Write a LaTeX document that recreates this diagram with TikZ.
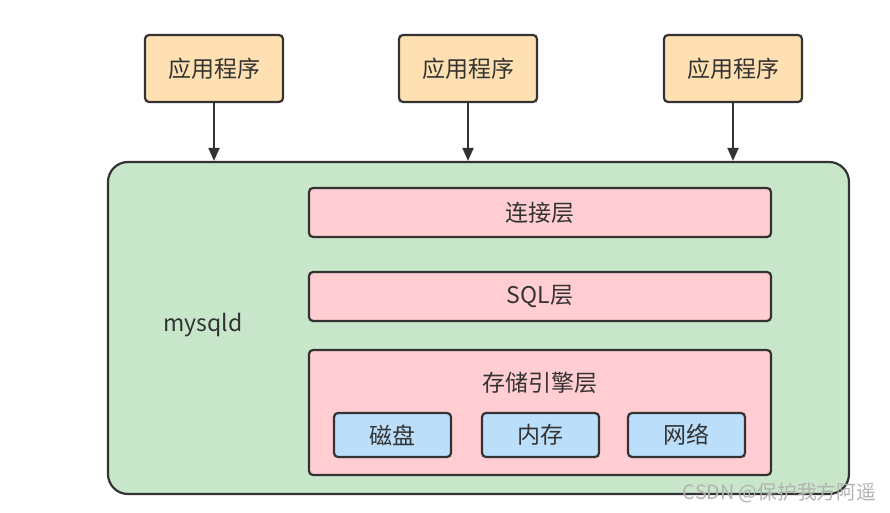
\documentclass[tikz,border=0pt]{standalone}
\usepackage{fontspec}
\setmainfont{Noto Sans CJK SC}
\usetikzlibrary{arrows.meta}
\definecolor{appfill}{HTML}{FFE0B2}
\definecolor{mainfill}{HTML}{C8E6C9}
\definecolor{layerfill}{HTML}{FFCDD2}
\definecolor{itemfill}{HTML}{BBDEFB}
\definecolor{edge}{HTML}{333333}
\definecolor{txt}{HTML}{333333}
\tikzset{
  box/.style={draw=edge, line width=2.2pt, rounded corners=4pt, inner sep=0pt, text=txt, font=\fontsize{23}{26}\selectfont},
  appbox/.style={box, fill=appfill, minimum width=138pt, minimum height=67pt},
  layerbox/.style={box, fill=layerfill, minimum width=462pt, minimum height=49pt},
  itembox/.style={box, fill=itemfill, minimum width=117pt, minimum height=44pt},
  conn/.style={draw=edge, line width=2pt, -{Triangle[length=13pt,width=11pt]}}
}
\begin{document}
\begin{tikzpicture}[x=1pt,y=-1pt]
\useasboundingbox (0,0) rectangle (890,513);
\node[appbox] (a1) at (214,68.5) {应用程序};
\node[appbox] (a2) at (468,68.5) {应用程序};
\node[appbox] (a3) at (733,68.5) {应用程序};
\node[draw=edge, line width=2.2pt, fill=mainfill, rounded corners=20pt, minimum width=741pt, minimum height=332pt, inner sep=0pt] (m) at (478.5,328) {};
\node[anchor=west, text=txt, inner sep=0pt, font=\fontsize{23}{26}\selectfont] (ml) at (163,325) {mysqld};
\node[layerbox] (l1) at (540,212.5) {连接层};
\node[layerbox] (l2) at (540,296.5) {SQL层};
\node[box, fill=layerfill, minimum width=462pt, minimum height=125pt] (l3) at (540,412.5) {};
\node[text=txt, font=\fontsize{23}{26}\selectfont] (l3t) at (540,383) {存储引擎层};
\node[itembox] (i1) at (392.5,435) {磁盘};
\node[itembox] (i2) at (540.5,435) {内存};
\node[itembox] (i3) at (686.5,435) {网络};
\draw[conn] (a1.south) -- (a1.south |- m.north);
\draw[conn] (a2.south) -- (a2.south |- m.north);
\draw[conn] (a3.south) -- (a3.south |- m.north);
\node[anchor=east, inner sep=0pt, text=black!30, font=\fontsize{19.7}{21}\selectfont] (wm) at (876,493) {CSDN @保护我方阿遥};
\end{tikzpicture}
\end{document}
